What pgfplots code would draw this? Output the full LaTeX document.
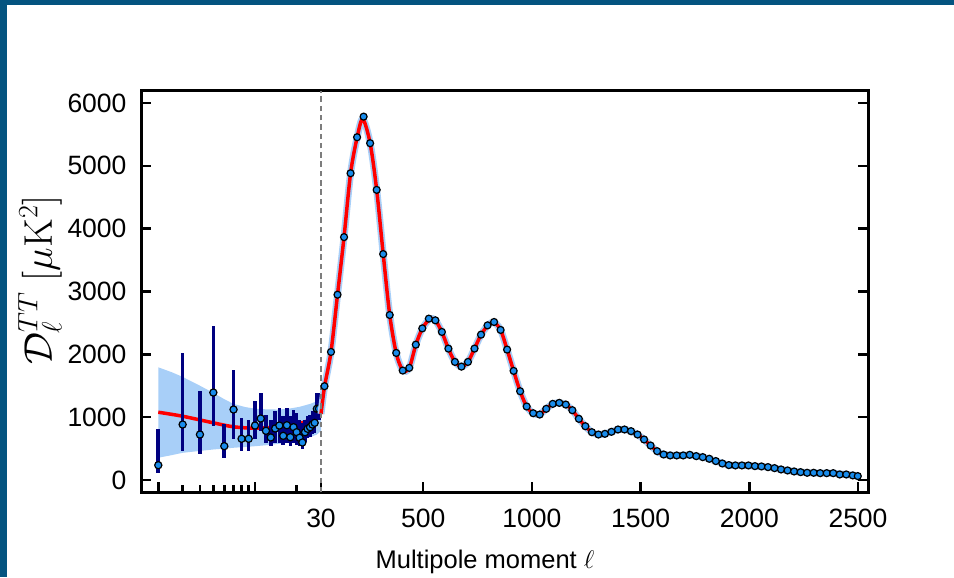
\RequirePackage{fix-cm}
\documentclass[border=0pt]{standalone}
\usepackage[no-math]{fontspec}
\setmainfont{Liberation Sans}
\usepackage{pgfplots}
\usepackage{pgfplotstable}
\pgfplotsset{compat=1.18}

\definecolor{frameblue}{RGB}{4,84,128}
\definecolor{bandblue}{RGB}{168,207,248}
\definecolor{ptblue}{RGB}{25,140,235}
\definecolor{barnavy}{RGB}{0,0,128}
\definecolor{dashgray}{RGB}{125,125,125}

% low multipoles, l = 2..29, with asymmetric error bars
\pgfplotstableread{
l  D    ep   em
2  235  568  132
3  882  1140 424
4  723  700  307
5  1391 1065 535
6  538  355  185
7  1121 636  477
8  655  334  197
9  655  307  197
10 866  387  222
11 978  408  202
12 782  259  191
13 676  286  138
14 819  275  228
15 866  281  275
16 702  313  153
17 871  276  280
18 681  334  143
19 840  281  249
20 760  308  196
21 671  291  133
22 596  313  111
23 760  200  150
24 814  200  150
25 840  200  150
26 882  220  150
27 909  220  160
28 1132 250  170
29 1132 250  170
}\lowl

% binned high multipoles
\pgfplotstableread{
l    D
46   1492
76   2038
106  2949
136  3866
166  4883
196  5456
226  5784
256  5361
286  4618
316  3596
346  2626
376  2022
406  1741
436  1784
466  2154
496  2413
526  2568
556  2541
586  2356
616  2091
646  1879
676  1804
706  1879
736  2091
766  2313
796  2461
826  2515
856  2388
886  2075
916  1736
946  1412
976  1169
1006 1062
1036 1041
1066 1132
1096 1211
1126 1227
1156 1200
1186 1110
1216 973
1246 855
1276 760
1306 723
1336 734
1366 766
1396 803
1426 803
1456 776
1486 723
1516 644
1546 548
1576 458
1606 405
1636 390
1666 390
1696 390
1726 400
1756 379
1786 363
1816 337
1846 300
1876 262
1906 236
1936 231
1966 231
1996 231
2026 220
2056 215
2086 204
2116 188
2146 167
2176 151
2206 135
2236 124
2266 114
2296 114
2326 108
2356 108
2386 108
2416 87
2446 87
2476 72
2499 61
}\highl

% best-fit model curve, l >= 30
\pgfplotstableread{
l    D
30   1050
46   1480
76   2040
106  2950
136  3870
166  4880
196  5450
222  5745
256  5360
286  4620
316  3600
346  2630
376  2020
406  1745
436  1785
466  2150
496  2410
530  2560
556  2540
586  2355
616  2090
646  1880
676  1805
706  1880
736  2090
766  2310
800  2470
826  2505
856  2390
886  2075
916  1736
946  1412
976  1169
1006 1062
1036 1045
1066 1132
1096 1211
1126 1227
1156 1200
1186 1110
1216 973
1246 855
1276 760
1306 723
1336 734
1366 766
1396 800
1426 803
1456 776
1486 723
1516 644
1546 548
1576 458
1606 405
1666 390
1726 395
1786 363
1846 300
1906 238
1966 231
2026 220
2086 204
2146 167
2206 135
2266 116
2326 108
2386 105
2446 87
2499 63
}\model

\pgfplotsset{cmbaxis/.style={
  scale only axis,
  height=402pt,
  ymin=-200, ymax=6200,
  ytick={0,1000,...,6000},
  axis line style={line width=3pt, -, line cap=rect},
  every inner x axis line/.append style={-},
  every inner y axis line/.append style={-},
  tick align=inside,
  major tick length=10.5pt,
  minor tick length=7pt,
  tick style={black, line width=2.5pt},
  tick label style={font=\fontsize{26.5}{31}\selectfont},
  xticklabel style={yshift=-13pt},
  /pgf/number format/assume math mode=true,
  /pgf/number format/1000 sep={},
  axis x line*=box,
  xtick pos=bottom,
}}

\begin{document}
\begin{tikzpicture}[x=1pt,y=1pt]
\fill[white] (0,0) rectangle (954,577);
\fill[frameblue] (0,572) rectangle (954,577);
\fill[frameblue] (0,0) rectangle (7,577);

% low-l part, logarithmic
\begin{axis}[cmbaxis,
  at={(141pt,84.5pt)}, anchor=south west,
  width=180pt,
  xmode=log, xmin=1.5, xmax=30,
  axis y line*=left, ytick pos=left,
  yticklabel style={xshift=-11pt},
  xtick={2,10}, xticklabels={},
  minor xtick={3,4,5,6,7,8,9,20},
  ]
  % cosmic-variance band: upper edge left to right, lower edge back
  \addplot[fill=bandblue, draw=none] coordinates {
    (2,1793)(2.5,1715)(3,1640)(4,1500)(5,1386)(6,1285)(7,1210)(8.5,1160)(10,1135)
    (12.5,1122)(15,1121)(18,1138)(21,1164)(25,1210)(28,1253)(30,1290)
    (30,780)(28,723)(25,680)(21,633)(18,602)(15,576)(12.5,556)(10,537)
    (8.5,525)(7,512)(6,500)(5,485)(4,462)(3,432)(2.5,395)(2,353)} -- cycle;
  \addplot[red, line width=3.5pt, smooth] coordinates {
    (2,1078)(3,1014)(5,909)(7,846)(10,824)(15,846)(21,898)(28,998)(30,1068)};
  \addplot[only marks, mark=*, mark size=3.6pt,
    mark options={fill=ptblue, draw=black, line width=1.2pt},
    error bars/.cd, y dir=both, y explicit, error mark=none,
    error bar style={draw=barnavy, line width=3.6pt}]
    table[x=l, y=D, y error plus=ep, y error minus=em] {\lowl};
\end{axis}

% high-l part, linear
\begin{axis}[cmbaxis,
  at={(321pt,84.5pt)}, anchor=south west,
  width=547pt,
  xmin=30, xmax=2546,
  axis y line*=right, ytick pos=right, yticklabels={},
  xtick={30,500,1000,1500,2000,2500},
  clip=false,
  ]
  \addplot[bandblue, line width=7pt, smooth] table[x=l, y=D] {\model};
  \addplot[red, line width=3.5pt, smooth] table[x=l, y=D] {\model};
  \addplot[only marks, mark=*, mark size=3.5pt,
    mark options={fill=ptblue, draw=black, line width=1.2pt}]
    table[x=l, y=D] {\highl};
  \draw[dashgray, line width=2.4pt, dash pattern=on 5.5pt off 3.8pt]
    (axis cs:30,-200) -- (axis cs:30,6200);
\end{axis}

\node[rotate=90, font=\fontsize{40}{46}\selectfont] at (40,297)
  {$\mathcal{D}_\ell^{TT}\;[\mu\mathrm{K}^2]$};
\node[font=\fontsize{25.5}{30}\selectfont] at (485,15) {Multipole moment $\ell$};
\end{tikzpicture}
\end{document}
